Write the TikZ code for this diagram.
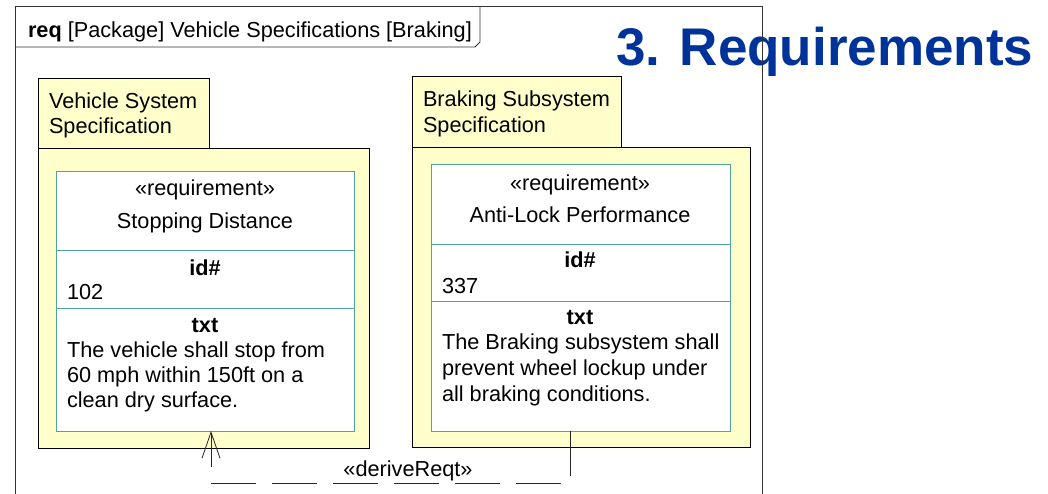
\documentclass[tikz,border=0pt]{standalone}
\usepackage{fontspec}
\setmainfont{Liberation Sans}
\usetikzlibrary{arrows.meta,calc,shadows}
\definecolor{pkgfill}{RGB}{255,255,204}
\definecolor{reqline}{RGB}{80,165,155}
\definecolor{titleblue}{RGB}{0,51,153}
\begin{document}
\begin{tikzpicture}[x=1pt,y=-1pt,
  every node/.style={inner sep=0pt, outer sep=0pt},
  txt/.style={font=\fontsize{21.7}{25.5}\selectfont, anchor=base},
  txtl/.style={txt, anchor=base west},
  pkgtab/.style={draw=black, fill=pkgfill, line width=0.9pt, anchor=north west},
  pkgbody/.style={draw=black, fill=pkgfill, line width=0.9pt, anchor=north west,
    general shadow={fill=black!45, shadow xshift=1.3pt, shadow yshift=-1.3pt}},
  reqbox/.style={draw=reqline, fill=white, line width=0.9pt, anchor=north west},
  divider/.style={draw=reqline, line width=0.9pt},
  frameline/.style={draw=black!80, line width=0.9pt},
  dep/.style={draw=black!85, line width=0.8pt, dash pattern=on 45pt off 16pt,
    -{Straight Barb[length=26pt,width=18pt]}}
]
\useasboundingbox (0,0) rectangle (1048,493);

% title
\node[anchor=base west, font=\fontsize{53}{60}\selectfont\bfseries, text=titleblue] (title) at (616,65) {3. Requirements};

% frame
\draw[frameline] (15,500) -- (15,6) -- (762,6) -- (762,500);
\draw[frameline] (15,47) -- (475,47) -- (480,42) -- (480,6);
\node[txtl] (head) at (28,37.5) {\textbf{req} [Package] Vehicle Specifications [Braking]};

% left package
\node[pkgbody, minimum width=331pt, minimum height=300pt] (body1) at (38,148) {};
\node[pkgtab, minimum width=171pt, minimum height=70pt] (tab1) at (38,78) {};
\node[txtl] (tab1a) at (49,108) {Vehicle System};
\node[txtl] (tab1b) at (49,133) {Specification};

% right package
\node[pkgbody, minimum width=338pt, minimum height=300pt] (body2) at (412,147) {};
\node[pkgtab, minimum width=209pt, minimum height=71pt] (tab2) at (412,76) {};
\node[txtl] (tab2a) at (423,106) {Braking Subsystem};
\node[txtl] (tab2b) at (423,132) {Specification};

% left requirement
\node[reqbox, minimum width=298pt, minimum height=260pt] (req1) at (56,171) {};
\draw[divider] (56,250) -- (354,250);
\draw[divider] (56,308) -- (354,308);
\node[txt] (r1st) at (205,195) {«requirement»};
\node[txt] (r1nm) at (205,228) {Stopping Distance};
\node[txt] (r1idh) at (205,275) {\textbf{id\#}};
\node[txtl] (r1id) at (67,299) {102};
\node[txt] (r1txh) at (205,332) {\textbf{txt}};
\node[txtl] (r1t1) at (67,357) {The vehicle shall stop from};
\node[txtl] (r1t2) at (67,382) {60 mph within 150ft on a};
\node[txtl] (r1t3) at (67,407) {clean dry surface.};

% right requirement
\node[reqbox, minimum width=299pt, minimum height=267pt] (req2) at (431,164) {};
\draw[divider] (431,244) -- (730,244);
\draw[divider] (431,301) -- (730,301);
\node[txt] (r2st) at (580,190) {«requirement»};
\node[txt] (r2nm) at (580,222) {Anti-Lock Performance};
\node[txt] (r2idh) at (580,267) {\textbf{id\#}};
\node[txtl] (r2id) at (442,293) {337};
\node[txt] (r2txh) at (580,324) {\textbf{txt}};
\node[txtl] (r2t1) at (442,349) {The Braking subsystem shall};
\node[txtl] (r2t2) at (442,375) {prevent wheel lockup under};
\node[txtl] (r2t3) at (442,401) {all braking conditions.};

% deriveReqt dependency
\draw[dep] ([xshift=-10.5pt]req2.south) -- ++(0,52) -| ([xshift=6pt]req1.south);
\node[txt] (dlab) at (408,476) {«deriveReqt»};
\end{tikzpicture}
\end{document}
